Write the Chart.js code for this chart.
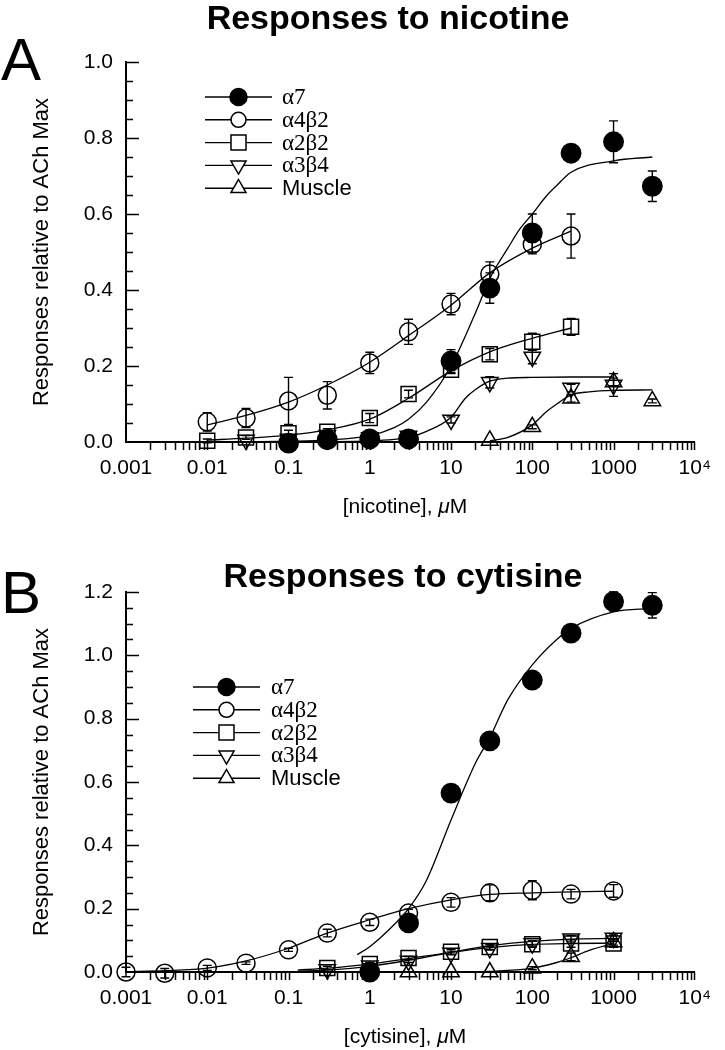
<!DOCTYPE html>
<html><head><meta charset="utf-8">
<script src="https://cdn.jsdelivr.net/npm/chart.js@4.4.1/dist/chart.umd.min.js"></script>
<style>
html,body{margin:0;padding:0;background:#fff;}
#wrap{position:relative;width:725px;height:1050px;background:#fff;}
#cA{position:absolute;left:0;top:0;}
#cB{position:absolute;left:0;top:525px;}
</style></head><body>
<div id="wrap">
<canvas id="cA" width="725" height="525"></canvas>
<canvas id="cB" width="725" height="525"></canvas>
</div>
<script>
// ---------- shared ----------
const X_TICKS = [0.001, 0.01, 0.1, 1, 10, 100, 1000, 10000];
const X_TICK_LABELS = ['0.001', '0.01', '0.1', '1', '10', '100', '1000', '10\u2074'];
const SERIES_NAMES = ['α7', 'α4β2', 'α2β2', 'α3β4', 'Muscle'];
const Y_TICKS_A = [0, 0.2, 0.4, 0.6, 0.8, 1.0];
const Y_TICKS_B = [0, 0.2, 0.4, 0.6, 0.8, 1.0, 1.2];

// ---------- Panel A: nicotine ----------
const nicA7X   = [0.1, 0.3, 1, 3, 10, 30, 100, 300, 1000, 3000];
const nicA7Y   = [-0.003, 0.006, 0.008, 0.008, 0.213, 0.405, 0.55, 0.76, 0.79, 0.673];
const nicA7Err = [0, 0, 0, 0, 0.03, 0.04, 0.05, 0.01, 0.055, 0.04];
const nicA7FitX = [0.01, 0.1, 0.3, 1, 2, 3, 5, 10, 20, 30, 50, 70, 100, 150, 200, 300, 1000, 3000];
const nicA7FitY = [0.0, 0.002, 0.005, 0.017, 0.038, 0.06, 0.105, 0.2, 0.34, 0.43, 0.51, 0.56, 0.6, 0.648, 0.675, 0.71, 0.74, 0.75];

const nicA4B2X   = [0.01, 0.03, 0.1, 0.3, 1, 3, 10, 30, 100, 300];
const nicA4B2Y   = [0.053, 0.063, 0.108, 0.123, 0.208, 0.29, 0.363, 0.442, 0.52, 0.542];
const nicA4B2Err = [0.024, 0.025, 0.062, 0.036, 0.028, 0.033, 0.028, 0.032, 0.025, 0.058];
const nicA4B2FitX = [0.01, 0.03, 0.1, 0.3, 1, 3, 10, 30, 100, 300];
const nicA4B2FitY = [0.045, 0.07, 0.105, 0.15, 0.21, 0.28, 0.36, 0.445, 0.51, 0.555];

const nicA2B2X   = [0.01, 0.03, 0.1, 0.3, 1, 3, 10, 30, 100, 300];
const nicA2B2Y   = [0.003, 0.012, 0.023, 0.027, 0.063, 0.126, 0.19, 0.231, 0.264, 0.303];
const nicA2B2Err = [0.005, 0.005, 0.008, 0.008, 0.012, 0.01, 0.01, 0.015, 0.022, 0.022];
const nicA2B2FitX = [0.01, 0.03, 0.1, 0.3, 1, 3, 10, 30, 100, 300];
const nicA2B2FitY = [0.005, 0.01, 0.018, 0.032, 0.06, 0.115, 0.187, 0.237, 0.273, 0.3];

const nicA3B4X   = [0.03, 0.1, 0.3, 1, 3, 10, 30, 100, 300, 1000];
const nicA3B4Y   = [0.005, 0.008, 0.018, 0.012, 0.016, 0.058, 0.157, 0.224, 0.142, 0.15];
const nicA3B4Err = [0, 0, 0.005, 0.005, 0.005, 0.008, 0.015, 0.018, 0.01, 0.03];
const nicA3B4FitX = [0.03, 0.3, 1, 2, 3, 5, 10, 15, 20, 30, 50, 100, 300, 1000];
const nicA3B4FitY = [0.0, 0.001, 0.003, 0.007, 0.012, 0.028, 0.065, 0.115, 0.138, 0.16, 0.168, 0.17, 0.171, 0.171];

const nicMusX   = [30, 100, 300, 1000, 3000];
const nicMusY   = [0.004, 0.04, 0.115, 0.158, 0.108];
const nicMusErr = [0, 0.005, 0.01, 0.01, 0.005];
const nicMusFitX = [30, 50, 100, 150, 200, 300, 500, 1000, 3000];
const nicMusFitY = [0.003, 0.012, 0.045, 0.08, 0.1, 0.124, 0.132, 0.136, 0.137];

// ---------- Panel B: cytisine ----------
const cytA7X   = [1, 3, 10, 30, 100, 300, 1000, 3000];
const cytA7Y   = [0.0, 0.155, 0.565, 0.73, 0.922, 1.07, 1.17, 1.158];
const cytA7Err = [0, 0.01, 0.01, 0.01, 0.02, 0.01, 0.03, 0.04];
const cytA7FitX = [0.7, 1, 2, 3, 5, 10, 20, 30, 50, 100, 200, 300, 1000, 3000];
const cytA7FitY = [0.055, 0.08, 0.15, 0.2, 0.29, 0.48, 0.66, 0.74, 0.86, 0.97, 1.05, 1.085, 1.137, 1.148];

const cytA4B2X   = [0.001, 0.003, 0.01, 0.03, 0.1, 0.3, 1, 3, 10, 30, 100, 300, 1000];
const cytA4B2Y   = [0.0, -0.004, 0.013, 0.028, 0.07, 0.123, 0.157, 0.186, 0.22, 0.25, 0.258, 0.246, 0.256];
const cytA4B2Err = [0.015, 0.015, 0.008, 0.004, 0.005, 0.012, 0.01, 0.012, 0.015, 0.025, 0.03, 0.015, 0.02];
const cytA4B2FitX = [0.001, 0.003, 0.01, 0.03, 0.1, 0.3, 1, 3, 10, 30, 100, 300, 1000];
const cytA4B2FitY = [0.001, 0.004, 0.012, 0.035, 0.075, 0.123, 0.165, 0.2, 0.228, 0.245, 0.25, 0.253, 0.255];

const cytA2B2X   = [0.3, 1, 3, 10, 30, 100, 300, 1000];
const cytA2B2Y   = [0.013, 0.025, 0.044, 0.064, 0.079, 0.088, 0.09, 0.09];
const cytA2B2Err = [0.005, 0.005, 0.005, 0.008, 0.008, 0.01, 0.012, 0.012];
const cytA2B2FitX = [0.13, 0.3, 1, 3, 10, 30, 100, 300, 1000];
const cytA2B2FitY = [0.006, 0.012, 0.025, 0.042, 0.062, 0.077, 0.087, 0.09, 0.091];

const cytA3B4X   = [0.3, 1, 3, 10, 30, 100, 300, 1000];
const cytA3B4Y   = [0.008, 0.02, 0.035, 0.06, 0.075, 0.09, 0.105, 0.107];
const cytA3B4Err = [0, 0.004, 0.005, 0.006, 0.006, 0.008, 0.01, 0.01];
const cytA3B4FitX = [0.13, 0.3, 1, 3, 10, 30, 100, 300, 1000];
const cytA3B4FitY = [0.003, 0.006, 0.018, 0.037, 0.062, 0.083, 0.097, 0.104, 0.106];

const cytMusX   = [3, 10, 30, 100, 300, 1000];
const cytMusY   = [0.0, 0.0, 0.0, 0.012, 0.048, 0.095];
const cytMusErr = [0, 0, 0, 0.005, 0.012, 0.01];
const cytMusFitX = [3, 10, 30, 100, 200, 300, 500, 1000];
const cytMusFitY = [0.0, 0.0, 0.002, 0.012, 0.03, 0.045, 0.068, 0.09];

// ---------- styling ----------
const SANS = "'Liberation Sans', Arial, Helvetica, sans-serif";
const SERIF = "'Liberation Serif', 'Times New Roman', Times, serif";
const MARKS = [
  {style: 'circle',   r: 9.7,  filled: true,  rot: 0,   lr: 8.5},
  {style: 'circle',   r: 9,    filled: false, rot: 0,   lr: 7.5},
  {style: 'rect',     r: 10.6, filled: false, rot: 0,   lr: 7.5},
  {style: 'triangle', r: 9.5,  filled: false, rot: 180, lr: 8.7},
  {style: 'triangle', r: 9.5,  filled: false, rot: 0,   lr: 8.7}
];

function pts(xs, ys) { return xs.map((x, i) => ({x: x, y: ys[i]})); }

function buildDatasets(series) {
  const ds = [];
  series.forEach((s, i) => {
    const m = MARKS[i];
    ds.push({
      label: SERIES_NAMES[i], data: pts(s.x, s.y), errors: s.err, showLine: false,
      pointStyle: m.style, pointRadius: m.r, pointHoverRadius: m.r, pointRotation: m.rot,
      pointBackgroundColor: m.filled ? '#000' : 'rgba(0,0,0,0)', pointBorderColor: '#000',
      pointBorderWidth: 1.5, clip: false, order: 0
    });
  });
  series.forEach((s, i) => {
    ds.push({
      label: SERIES_NAMES[i] + ' fit', data: pts(s.fx, s.fy), showLine: true,
      borderColor: '#000', borderWidth: 1.3, pointRadius: 0, pointHoverRadius: 0,
      cubicInterpolationMode: 'monotone', fill: false, clip: false, order: 1
    });
  });
  return ds;
}

function drawMarker(ctx, m, x, y) {
  const r = m.lr;
  ctx.beginPath();
  if (m.style === 'circle') {
    ctx.arc(x, y, r, 0, Math.PI * 2);
  } else if (m.style === 'rect') {
    ctx.rect(x - r, y - r, 2 * r, 2 * r);
  } else if (m.rot === 180) {
    ctx.moveTo(x, y + r); ctx.lineTo(x + 0.866 * r, y - 0.5 * r); ctx.lineTo(x - 0.866 * r, y - 0.5 * r); ctx.closePath();
  } else {
    ctx.moveTo(x, y - r); ctx.lineTo(x + 0.866 * r, y + 0.5 * r); ctx.lineTo(x - 0.866 * r, y + 0.5 * r); ctx.closePath();
  }
  if (m.filled) { ctx.fillStyle = '#000'; ctx.fill(); }
  else { ctx.fillStyle = '#fff'; ctx.fill(); }
  ctx.strokeStyle = '#000'; ctx.lineWidth = 1.5; ctx.stroke();
}

const decoPlugin = {
  id: 'deco',
  beforeDatasetsDraw(chart, args, o) {
    const ctx = chart.ctx, ys = chart.scales.y;
    ctx.save();
    ctx.strokeStyle = '#000'; ctx.lineWidth = 1.4;
    chart.data.datasets.forEach((d, i) => {
      if (!d.errors) return;
      const meta = chart.getDatasetMeta(i);
      d.data.forEach((p, j) => {
        const e = d.errors[j];
        if (!e) return;
        const x = meta.data[j].x;
        const y1 = ys.getPixelForValue(p.y + e), y2 = ys.getPixelForValue(p.y - e);
        ctx.beginPath();
        ctx.moveTo(x, y1); ctx.lineTo(x, y2);
        ctx.moveTo(x - 4.5, y1); ctx.lineTo(x + 4.5, y1);
        ctx.moveTo(x - 4.5, y2); ctx.lineTo(x + 4.5, y2);
        ctx.stroke();
      });
    });
    ctx.restore();
  },
  afterDraw(chart, args, o) {
    const ctx = chart.ctx, ca = chart.chartArea;
    const xs = chart.scales.x, ys = chart.scales.y;
    ctx.save();
    ctx.strokeStyle = '#000'; ctx.lineWidth = 1.5;
    // x ticks (outward, all log minor ticks)
    ctx.beginPath();
    for (let e = -3; e <= 3; e++) {
      for (let m = 1; m <= 9; m++) {
        if (e === -3 && m === 1) continue;
        const px = Math.round(xs.getPixelForValue(m * Math.pow(10, e))) + 0.5;
        ctx.moveTo(px, ca.bottom); ctx.lineTo(px, ca.bottom + 8);
      }
    }
    const pEnd = Math.round(xs.getPixelForValue(10000)) - 0.5;
    ctx.moveTo(pEnd, ca.bottom); ctx.lineTo(pEnd, ca.bottom + 8);
    // y ticks (inward)
    const nY = Math.round(o.ymax / 0.05);
    for (let k = 1; k <= nY; k++) {
      const py = Math.round(ys.getPixelForValue(k * 0.05)) + 0.5;
      const len = (k % 4 === 0) ? 13 : 7;
      ctx.moveTo(ca.left, py); ctx.lineTo(ca.left + len, py);
    }
    ctx.stroke();

    ctx.fillStyle = '#000';
    // title
    ctx.font = 'bold 34px ' + SANS;
    ctx.textAlign = 'center'; ctx.textBaseline = 'alphabetic';
    ctx.fillText(o.title, o.titleX, o.titleY);
    // panel letter
    ctx.font = '60px ' + SANS;
    ctx.textAlign = 'left';
    ctx.fillText(o.letter, 1, o.letterY);
    // y axis title
    ctx.save();
    ctx.translate(48, (ca.top + ca.bottom) / 2);
    ctx.rotate(-Math.PI / 2);
    ctx.font = '22px ' + SANS;
    ctx.textAlign = 'center';
    ctx.fillText('Responses relative to ACh Max', 0, 0);
    ctx.restore();
    // x axis title with italic mu
    const partA = o.xTitle + ', ', partB = 'μ', partC = 'M';
    ctx.font = '21px ' + SANS; const wA = ctx.measureText(partA).width, wC = ctx.measureText(partC).width;
    ctx.font = 'italic 21px ' + SANS; const wB = ctx.measureText(partB).width;
    let sx = o.xTitleX - (wA + wB + wC) / 2;
    const by = ca.bottom + 71;
    ctx.textAlign = 'left';
    ctx.font = '21px ' + SANS; ctx.fillText(partA, sx, by); sx += wA;
    ctx.font = 'italic 21px ' + SANS; ctx.fillText(partB, sx, by); sx += wB;
    ctx.font = '21px ' + SANS; ctx.fillText(partC, sx, by);
    // legend
    const L = o.legend;
    ctx.textBaseline = 'middle';
    SERIES_NAMES.forEach((name, i) => {
      const y = L.y0 + i * L.dy;
      ctx.beginPath(); ctx.strokeStyle = '#000'; ctx.lineWidth = 1.4;
      ctx.moveTo(L.x1, y); ctx.lineTo(L.x2, y); ctx.stroke();
      drawMarker(ctx, MARKS[i], (L.x1 + L.x2) / 2, y);
      ctx.fillStyle = '#000';
      ctx.font = (name === 'Muscle' ? '22px ' + SANS : '23px ' + SERIF);
      ctx.fillText(name, L.xt, y + 1);
    });
    ctx.restore();
  }
};

function makeChart(id, series, cfg) {
  return new Chart(document.getElementById(id), {
    type: 'scatter',
    data: {datasets: buildDatasets(series)},
    options: {
      responsive: false, animation: false, events: [],
      layout: {padding: {top: cfg.top, right: 27, left: 0, bottom: 0}},
      plugins: {
        legend: {display: false}, tooltip: {enabled: false}, title: {display: false},
        deco: cfg.deco
      },
      scales: {
        x: {
          type: 'logarithmic', min: 0.001, max: 10000, position: 'bottom',
          afterBuildTicks: s => { s.ticks = X_TICKS.map(v => ({value: v})); },
          afterFit: s => { s.height = 525 - cfg.bottom; },
          grid: {display: false, drawTicks: false},
          border: {display: true, color: '#000', width: 2},
          ticks: {padding: 14, color: '#000', autoSkip: false, maxRotation: 0, minRotation: 0,
                  font: {family: SANS, size: 21},
                  callback: (v, i) => X_TICK_LABELS[i]}
        },
        y: {
          min: 0, max: cfg.ymax, position: 'left',
          afterBuildTicks: s => { s.ticks = cfg.yticks.map(v => ({value: v})); },
          afterFit: s => { s.width = 126; },
          grid: {display: false, drawTicks: false},
          border: {display: true, color: '#000', width: 2},
          ticks: {padding: 13, color: '#000', font: {family: SANS, size: 21},
                  callback: v => Number(v).toFixed(1)}
        }
      }
    },
    plugins: [decoPlugin]
  });
}

makeChart('cA', [
  {x: nicA7X, y: nicA7Y, err: nicA7Err, fx: nicA7FitX, fy: nicA7FitY},
  {x: nicA4B2X, y: nicA4B2Y, err: nicA4B2Err, fx: nicA4B2FitX, fy: nicA4B2FitY},
  {x: nicA2B2X, y: nicA2B2Y, err: nicA2B2Err, fx: nicA2B2FitX, fy: nicA2B2FitY},
  {x: nicA3B4X, y: nicA3B4Y, err: nicA3B4Err, fx: nicA3B4FitX, fy: nicA3B4FitY},
  {x: nicMusX, y: nicMusY, err: nicMusErr, fx: nicMusFitX, fy: nicMusFitY}
], {
  top: 62, bottom: 442, ymax: 1.0, yticks: Y_TICKS_A,
  deco: {title: 'Responses to nicotine', titleX: 388, titleY: 29, letter: 'A', letterY: 80,
         xTitle: '[nicotine]', xTitleX: 405, ymax: 1.0,
         legend: {x1: 205, x2: 272, xt: 282, y0: 97, dy: 22.8}}
});

makeChart('cB', [
  {x: cytA7X, y: cytA7Y, err: cytA7Err, fx: cytA7FitX, fy: cytA7FitY},
  {x: cytA4B2X, y: cytA4B2Y, err: cytA4B2Err, fx: cytA4B2FitX, fy: cytA4B2FitY},
  {x: cytA2B2X, y: cytA2B2Y, err: cytA2B2Err, fx: cytA2B2FitX, fy: cytA2B2FitY},
  {x: cytA3B4X, y: cytA3B4Y, err: cytA3B4Err, fx: cytA3B4FitX, fy: cytA3B4FitY},
  {x: cytMusX, y: cytMusY, err: cytMusErr, fx: cytMusFitX, fy: cytMusFitY}
], {
  top: 67, bottom: 447, ymax: 1.2, yticks: Y_TICKS_B,
  deco: {title: 'Responses to cytisine', titleX: 403, titleY: 62, letter: 'B', letterY: 88,
         xTitle: '[cytisine]', xTitleX: 405, ymax: 1.2,
         legend: {x1: 193, x2: 260, xt: 271, y0: 162, dy: 22.8}}
});
</script>
</body></html>
